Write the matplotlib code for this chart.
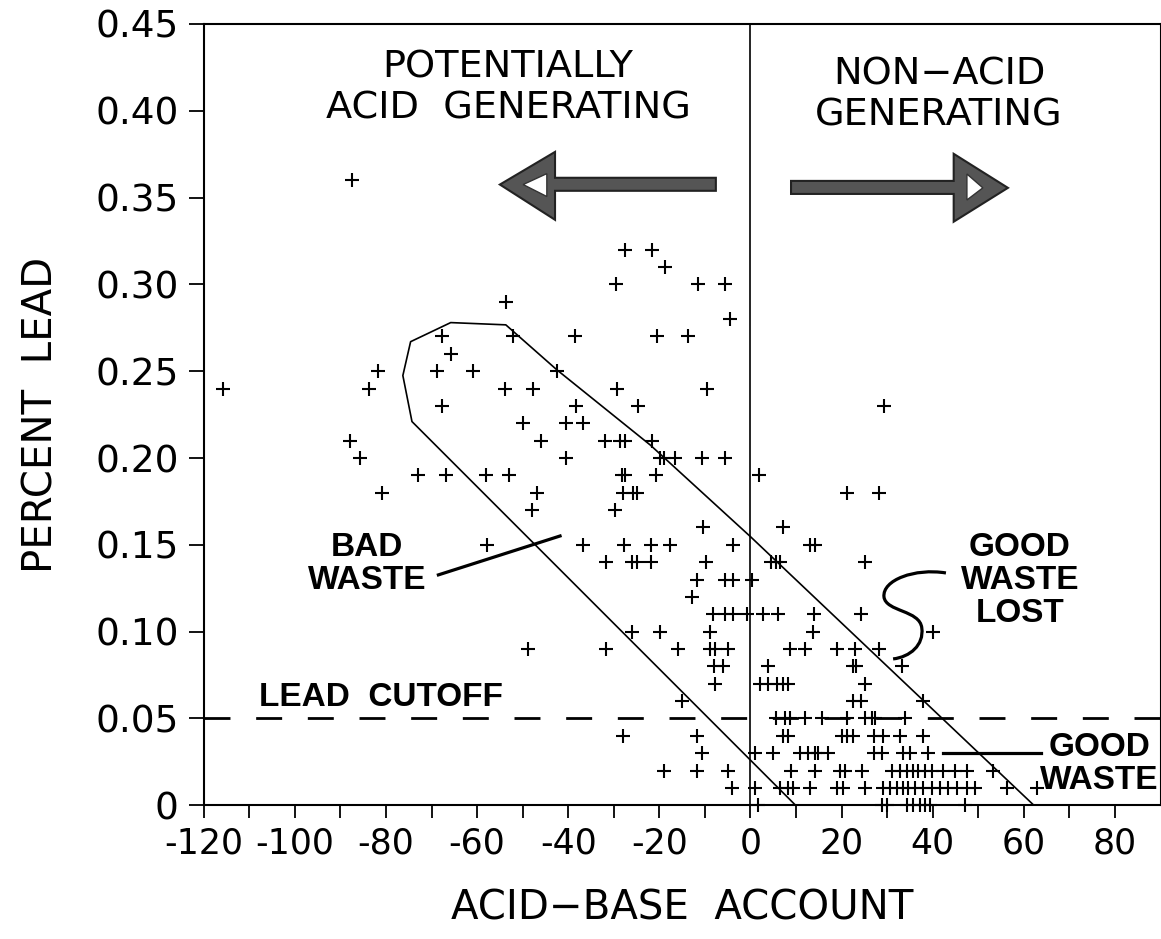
import matplotlib
matplotlib.use('Agg')
import matplotlib.pyplot as plt
from matplotlib import font_manager
from matplotlib.patches import Polygon, PathPatch
from matplotlib.path import Path

plt.rcParams['font.family'] = ['DejaVu Sans']
plt.rcParams['axes.unicode_minus'] = False
plt.rcParams['lines.scale_dashes'] = False

# fonte estreita para as anotações em negrito (se houver)
nomes = {f.name for f in font_manager.fontManager.ttflist}
if 'Liberation Sans Narrow' in nomes:
    fonte_bold, tam_bold = 'Liberation Sans Narrow', 26
else:
    fonte_bold, tam_bold = 'Liberation Sans', 24

        ################################################################
        #                          Dados                               #
        ################################################################

# percentual de chumbo (linhas de 0.01) e acid-base account de cada ponto
lead_levels = [0.36, 0.32, 0.31, 0.30, 0.29, 0.28, 0.27, 0.26, 0.25, 0.24,
               0.23, 0.22, 0.21, 0.20, 0.19, 0.18, 0.17, 0.16, 0.15, 0.14,
               0.13, 0.12, 0.11, 0.10, 0.09, 0.08, 0.07, 0.06, 0.05, 0.04,
               0.03, 0.02, 0.01, 0.00]

aba_at_level = [
    [-87.5],
    [-27.5, -21.7],
    [-18.7],
    [-29.5, -11.5, -5.6],
    [-53.7],
    [-4.6],
    [-67.7, -52.1, -38.5, -20.6, -13.7],
    [-65.7],
    [-81.7, -68.7, -60.8, -42.5],
    [-115.8, -83.7, -53.8, -47.7, -29.4, -9.6],
    [-67.6, -38.4, -24.6, 29.3],
    [-49.9, -40.6, -36.7],
    [-87.8, -46.0, -32.0, -28.6, -27.5, -21.7],
    [-85.7, -40.6, -19.9, -18.9, -16.6, -10.7, -5.6],
    [-72.9, -66.9, -58.0, -52.9, -28.3, -27.5, -20.8, 1.8],
    [-80.8, -46.8, -28.0, -25.7, -25.0, 21.2, 28.3],
    [-47.9, -29.7],
    [-10.5, 7.1],
    [-57.9, -36.8, -27.8, -21.9, -17.7, -3.8, 13.1, 14.2],
    [-31.8, -26.1, -25.0, -21.9, -9.8, 4.4, 5.6, 6.5, 25.1],
    [-11.8, -5.6, -3.9, 0.4],
    [-12.9],
    [-8.2, -5.5, -3.8, -0.8, 2.8, 6.1, 13.9, 24.2],
    [-25.9, -19.9, -8.9, 13.8, 40.1],
    [-48.9, -31.8, -16.0, -8.9, -7.8, -4.9, 8.7, 12.0, 18.9, 22.9, 28.1],
    [-8.1, -6.0, 3.9, 22.6, 23.2, 33.2],
    [-7.8, 2.1, 3.9, 5.8, 7.2, 8.3, 25.1],
    [-15.1, 22.6, 24.2, 37.8],
    [5.7, 7.5, 8.7, 12.0, 15.6, 21.1, 25.1, 26.6, 27.3, 33.9],
    [-28.0, -11.8, 7.2, 8.3, 20.0, 21.1, 22.4, 27.0, 29.1, 32.8, 37.8],
    [-10.7, 1.0, 5.0, 10.9, 12.7, 14.2, 14.9, 17.1, 27.0, 28.8, 33.5, 35.0,
     39.0],
    [-18.9, -11.8, -4.9, 9.0, 14.2, 19.6, 20.7, 24.4, 31.0, 32.8, 34.3, 35.7,
     36.8, 38.3, 39.8, 42.3, 44.9, 47.5, 53.3],
    [-4.0, 1.0, 6.5, 8.3, 9.4, 13.1, 18.9, 20.4, 25.1, 29.1, 30.6, 32.1, 33.5,
     34.6, 36.1, 37.9, 39.8, 41.6, 43.4, 45.3, 47.5, 49.3, 56.2, 62.8],
    [1.7, 28.8, 29.9, 34.3, 35.7, 37.2, 38.3, 39.4, 47.1],
]

# contorno da faixa "bad waste"
envelope_aba = [9.9, -74.3, -76.3, -74.6, -65.8, -53.7, -42.5, -22.0, 0.0,
                62.2]
envelope_lead = [0.0, 0.221, 0.2475, 0.267, 0.278, 0.2767, 0.2508, 0.2075,
                 0.1547, 0.0]

lead_cutoff = 0.05

x_ticks = list(range(-120, 81, 10))
x_labels = [str(v) if v % 20 == 0 else '' for v in x_ticks]
y_ticks = [0, 0.05, 0.10, 0.15, 0.20, 0.25, 0.30, 0.35, 0.40, 0.45]
y_labels = ['0', '0.05', '0.10', '0.15', '0.20', '0.25', '0.30', '0.35',
            '0.40', '0.45']

x = []
y = []
for nivel, valores in zip(lead_levels, aba_at_level):
    for v in valores:
        x.append(v)
        y.append(nivel)

        ################################################################
        #                          Figura                              #
        ################################################################

fig = plt.figure(figsize=(11.61, 9.39), dpi=100)
ax = fig.add_axes([0.1755, 0.1424, 0.8241, 0.8321])

ax.plot(x, y, linestyle='none', marker='+', markersize=10, mew=1.5,
        color='black', clip_on=False, zorder=3)

ax.plot(envelope_aba, envelope_lead, color='black', lw=1.2)
ax.axvline(0, color='black', lw=1.2)
ax.plot([-120, 90], [lead_cutoff, lead_cutoff], color='black', lw=2,
        dashes=(18.7, 18.5))

# setas
def seta(pontos, miolo):
    ax.add_patch(Polygon(pontos, closed=True, facecolor='#555555',
                         edgecolor='#222222', lw=1.5, zorder=4))
    ax.add_patch(Polygon(miolo, closed=True, facecolor='white',
                         edgecolor='#333333', lw=1.0, zorder=5))

seta([(-7.6, 0.3614), (-42.9, 0.3614), (-42.9, 0.3763), (-55.0, 0.3575),
      (-42.9, 0.3372), (-42.9, 0.3539), (-7.6, 0.3539)],
     [(-49.9, 0.3575), (-44.7, 0.3638), (-44.7, 0.3506)])
seta([(8.9, 0.3596), (44.6, 0.3596), (44.6, 0.3752), (56.5, 0.3556),
      (44.6, 0.3361), (44.6, 0.3521), (8.9, 0.3521)],
     [(47.5, 0.3636), (47.5, 0.3486), (51.0, 0.3556)])

ax.text(-53.2, 0.4132, 'POTENTIALLY\nACID  GENERATING', ha='center',
        va='center', fontsize=27.5)
ax.text(41.4, 0.4091, 'NON\u2212ACID\nGENERATING', ha='center', va='center',
        fontsize=27.5)

# anotações em negrito
ax.text(-84.2, 0.139, 'BAD\nWASTE', ha='center', va='center',
        fontsize=tam_bold, fontweight='bold', family=fonte_bold,
        linespacing=1.05)
ax.plot([-68.5, -41.8], [0.1327, 0.1551], color='black', lw=2.3)

ax.text(59.1, 0.1295, 'GOOD\nWASTE\nLOST', ha='center', va='center',
        fontsize=tam_bold, fontweight='bold', family=fonte_bold,
        linespacing=1.1)
verts = [(42.9, 0.1338), (36.1, 0.1367), (28.9, 0.1298), (29.3, 0.1200),
         (29.7, 0.1114), (37.2, 0.1125), (37.6, 0.1021),
         (38.1, 0.0923), (35.0, 0.0854), (31.3, 0.0843)]
codes = [Path.MOVETO] + [Path.CURVE4] * 9
ax.add_patch(PathPatch(Path(verts, codes), facecolor='none',
                       edgecolor='black', lw=2.3))

ax.text(76.6, 0.0238, 'GOOD\nWASTE', ha='center', va='center',
        fontsize=tam_bold, fontweight='bold', family=fonte_bold,
        linespacing=1.1)
ax.plot([42.3, 63.8], [0.030, 0.030], color='black', lw=2.3)

ax.text(-81.1, 0.0621, 'LEAD  CUTOFF', ha='center', va='center',
        fontsize=tam_bold, fontweight='bold', family=fonte_bold)

# eixos
ax.set_xlim(-120, 90)
ax.set_ylim(0, 0.45)
ax.set_xticks(x_ticks)
ax.set_xticklabels(x_labels)
ax.set_yticks(y_ticks)
ax.set_yticklabels(y_labels)
ax.tick_params(axis='x', direction='out', length=9.5, width=1.3,
               labelsize=25, pad=6)
ax.tick_params(axis='y', direction='out', length=11, width=1.3,
               labelsize=27, pad=7)
for lado in ax.spines.values():
    lado.set_linewidth(1.5)

ax.set_xlabel('ACID\u2212BASE  ACCOUNT', fontsize=29, labelpad=20)
ax.set_ylabel('PERCENT  LEAD', fontsize=29, labelpad=24)

fig.savefig('out.png', dpi=100)
